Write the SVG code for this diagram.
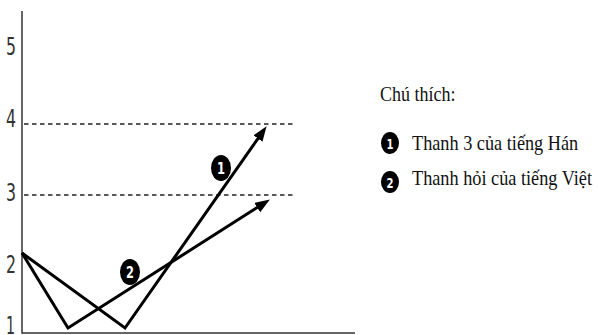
<svg xmlns="http://www.w3.org/2000/svg" width="598" height="335" viewBox="0 0 598 335">
<style>
.axis{stroke:#333;stroke-width:1.5;fill:none}
.dash{stroke:#222;stroke-width:1.5;stroke-dasharray:4.5 3.5;fill:none}
.tone{stroke:#000;stroke-width:3;fill:none;stroke-linejoin:miter}
.num{font-family:"DejaVu Sans Condensed","DejaVu Sans",sans-serif;font-stretch:condensed;font-size:24px;fill:#333}
.leg{font-family:"Liberation Serif",serif;font-size:22px;fill:#111}
.badge{fill:#000}
.bt{font-family:"DejaVu Sans Condensed","DejaVu Sans",sans-serif;font-weight:bold;font-size:16px;fill:#fff;text-anchor:middle}
</style>
<defs>
<marker id="arr" markerUnits="userSpaceOnUse" markerWidth="16" markerHeight="12" refX="6" refY="5.5" orient="auto" viewBox="0 0 16 12">
<path d="M0,0 L15,5.5 L0,11 z" fill="#000"/>
</marker>
</defs>
<g id="axes">
<path class="axis" d="M22,11 V333 H355"/>
<text class="num" x="6" y="55" textLength="10" lengthAdjust="spacingAndGlyphs">5</text>
<text class="num" x="6" y="127" textLength="10" lengthAdjust="spacingAndGlyphs">4</text>
<text class="num" x="6" y="201" textLength="10" lengthAdjust="spacingAndGlyphs">3</text>
<text class="num" x="6" y="273" textLength="10" lengthAdjust="spacingAndGlyphs">2</text>
<text class="num" x="6" y="334" textLength="9" lengthAdjust="spacingAndGlyphs">1</text>
</g>
<g id="gridlines">
<line class="dash" x1="24" y1="124" x2="296" y2="124"/>
<line class="dash" x1="24" y1="195" x2="296" y2="195"/>
</g>
<g id="connectors">
<polyline class="tone" points="22,253 125,328 261.4,133.6" marker-end="url(#arr)"/>
<polyline class="tone" points="22,253 68,328 262.3,204.3" marker-end="url(#arr)"/>
</g>
<g id="badge1">
<ellipse class="badge" cx="221" cy="168" rx="10" ry="13"/>
<text class="bt" x="221" y="174" textLength="8" lengthAdjust="spacingAndGlyphs">1</text>
</g>
<g id="badge2">
<ellipse class="badge" cx="130" cy="272" rx="10" ry="13"/>
<text class="bt" x="130" y="278" textLength="8" lengthAdjust="spacingAndGlyphs">2</text>
</g>
<g id="legend">
<text class="leg" transform="translate(380,101) scale(0.82,1)">Chú thích:</text>
<g id="legend1">
<ellipse class="badge" cx="390" cy="143" rx="9" ry="11"/>
<text class="bt" x="390" y="149" style="font-size:14px" textLength="7" lengthAdjust="spacingAndGlyphs">1</text>
<text class="leg" transform="translate(412,150) scale(0.83,1)">Thanh 3 của tiếng Hán</text>
</g>
<g id="legend2">
<ellipse class="badge" cx="390" cy="182" rx="9" ry="11"/>
<text class="bt" x="390" y="188" style="font-size:14px" textLength="7" lengthAdjust="spacingAndGlyphs">2</text>
<text class="leg" transform="translate(412,185) scale(0.83,1)">Thanh hỏi của tiếng Việt</text>
</g>
</g>
</svg>
